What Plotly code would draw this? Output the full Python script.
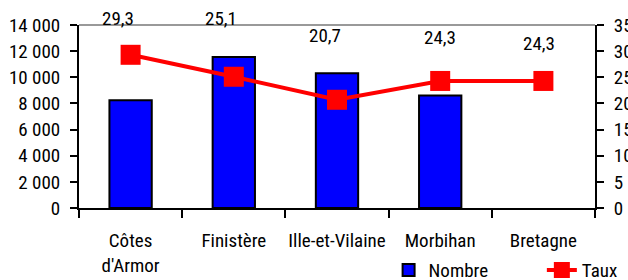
import plotly.graph_objects as go

categories = ["Côtes<br>d'Armor", "Finistère", "Ille-et-Vilaine", "Morbihan", "Bretagne"]
nombre = [8250, 11550, 10300, 8600, None]
taux = [29.3, 25.1, 20.7, 24.3, 24.3]
taux_labels = ["29,3", "25,1", "20,7", "24,3", "24,3"]
label_y = [1.038, 1.038, 0.94, 0.932, 0.899]
label_dx = [-13, -13, -12, 0, -4]

FONT = "Roboto Condensed, Liberation Sans, Arial, sans-serif"
FS = 19

fig = go.Figure()
fig.add_trace(go.Bar(
    x=categories, y=nombre, name="Nombre",
    marker=dict(color="#0000FF", line=dict(color="black", width=2)),
    width=0.41, legend="legend",
))
fig.add_trace(go.Scatter(
    x=categories, y=taux, name="Taux", yaxis="y2", mode="lines+markers",
    line=dict(color="#FF0000", width=4),
    marker=dict(symbol="square", size=20, color="#FF0000"),
    legend="legend2",
))

for c, t, ly, dx in zip(categories, taux_labels, label_y, label_dx):
    fig.add_annotation(x=c, y=ly, xref="x", yref="paper", text=t, showarrow=False, xshift=dx,
                       font=dict(family=FONT, size=FS, color="black"), yanchor="middle")

leg_common = dict(orientation="h", y=-0.339, xanchor="left", yanchor="middle",
                  font=dict(family=FONT, size=FS, color="black"), bgcolor="rgba(0,0,0,0)")
fig.update_layout(
    width=628, height=280,
    margin=dict(l=79, r=33, t=25, b=72, autoexpand=False),
    plot_bgcolor="white", paper_bgcolor="white",
    separators=", ",
    font=dict(family=FONT, size=FS, color="black"),
    showlegend=True,
    legend=dict(x=0.6, **leg_common),
    legend2=dict(x=0.897, **leg_common),
    xaxis=dict(showline=True, linecolor="black", linewidth=2, ticks="outside", tickson="boundaries",
               ticklen=8, tickwidth=2, tickcolor="black", showgrid=False, tickangle=0,
               automargin=False, ticklabelstandoff=14, tickfont=dict(family=FONT, size=FS)),
    yaxis=dict(range=[0, 14000], dtick=2000, tickformat=",d", showline=True, linecolor="black",
               linewidth=2, ticks="outside", ticklen=7, tickwidth=2, tickcolor="black",
               showgrid=False, zeroline=False, ticklabelstandoff=6, automargin=False),
    yaxis2=dict(range=[0, 35], dtick=5, overlaying="y", side="right", showline=True,
                linecolor="black", linewidth=2, ticks="outside", ticklen=7, tickwidth=2,
                tickcolor="black", showgrid=False, zeroline=False, ticklabelstandoff=6,
                automargin=False),
)
# top border of the plot area
fig.add_shape(type="line", xref="paper", yref="paper", x0=0, x1=1, y0=1, y1=1,
              line=dict(color="#999999", width=2))

fig.write_html("out.html", config={"displayModeBar": False},
               post_script="document.body.style.margin='0';document.body.style.overflow='hidden';")
